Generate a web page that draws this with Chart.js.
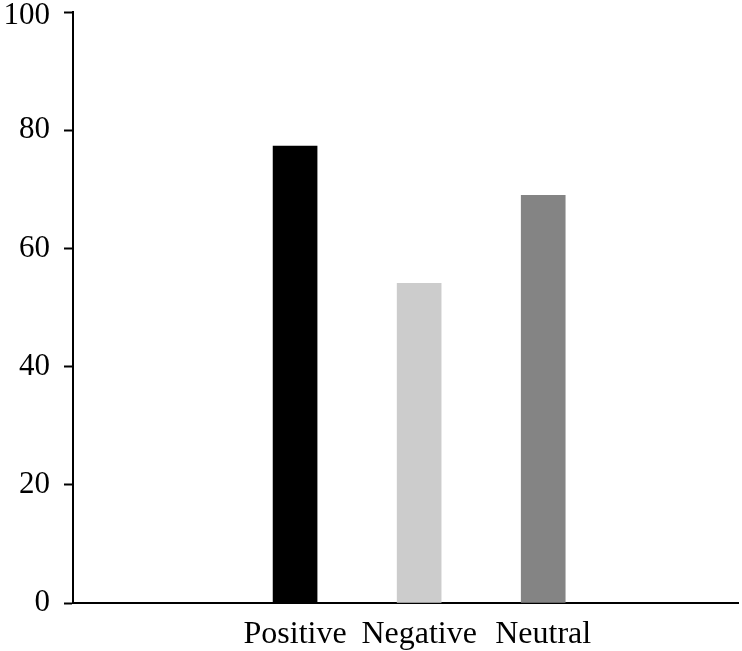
<!DOCTYPE html>
<html>
<head>
<meta charset="utf-8">
<script src="https://cdn.jsdelivr.net/npm/chart.js@4/dist/chart.umd.min.js"></script>
<style>
  html, body { margin: 0; padding: 0; background: #fff; }
  #wrap { width: 742px; height: 651px; }
</style>
</head>
<body>
<div id="wrap"><canvas id="chart"></canvas></div>
<script>
// Sentiment share (%)
const categories = ['Positive', 'Negative', 'Neutral'];
const values = [77.3, 54.1, 69.0];
const barColors = ['#000000', '#cccccc', '#848484'];
const yTicks = [0, 20, 40, 60, 80, 100];

const positions = categories.map((c, i) => i + 1);

// push the top "100" label down a bit so it isn't cut off by the canvas edge
const nudgeTopLabel = {
    id: 'nudgeTopLabel',
    beforeDraw(chart) {
        const items = chart.scales.y.getLabelItems();
        items.forEach(item => {
            if (item.label === '100') {
                item.options.translation[1] += 4;
            }
        });
    }
};

const ctx = document.getElementById('chart').getContext('2d');
new Chart(ctx, {
    type: 'bar',
    data: {
        datasets: [{
            data: positions.map((x, i) => ({ x: x, y: values[i] })),
            backgroundColor: barColors,
            borderWidth: 0,
            barThickness: 44
        }]
    },
    options: {
        responsive: true,
        maintainAspectRatio: false,
        animation: false,
        layout: { padding: { top: 12, right: 4, left: 0, bottom: 0 } },
        plugins: { legend: { display: false }, tooltip: { enabled: false } },
        scales: {
            x: {
                type: 'linear',
                offset: false,
                min: -0.79,
                max: 4.57,
                afterBuildTicks: scale => {
                    scale.ticks = positions.map(v => ({ value: v }));
                },
                afterFit: scale => {
                    scale.height = 48;
                    scale.paddingLeft = 0;
                    scale.paddingRight = 0;
                },
                grid: { display: false, drawTicks: false },
                border: { display: true, color: '#000', width: 2 },
                ticks: {
                    autoSkip: false,
                    maxRotation: 0,
                    padding: 12,
                    color: '#000',
                    font: { family: 'Liberation Serif', size: 32 },
                    callback: v => categories[v - 1] || ''
                }
            },
            y: {
                min: 0,
                max: 100,
                afterBuildTicks: scale => {
                    scale.ticks = yTicks.map(v => ({ value: v }));
                },
                afterFit: scale => {
                    scale.width = 73;
                    scale.paddingTop = 0;
                    scale.paddingBottom = 0;
                },
                grid: {
                    drawOnChartArea: false,
                    drawTicks: true,
                    tickLength: 9,
                    tickWidth: 2,
                    tickColor: '#000'
                },
                border: { display: true, color: '#000', width: 2 },
                ticks: {
                    padding: 14,
                    color: '#000',
                    font: { family: 'Liberation Serif', size: 31 }
                }
            }
        }
    },
    plugins: [nudgeTopLabel]
});
</script>
</body>
</html>
